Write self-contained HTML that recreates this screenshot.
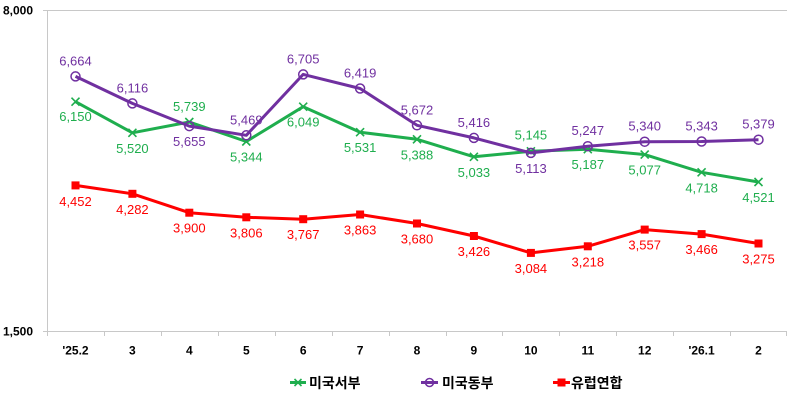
<!DOCTYPE html>
<html>
<head>
<meta charset="utf-8">
<style>
html,body{margin:0;padding:0;background:#fff;}
svg{display:block;}
.ax{font-family:"Liberation Sans",Arial,sans-serif;font-size:12px;font-weight:bold;fill:#000;}
.lb{font-family:"Liberation Sans",Arial,sans-serif;font-size:13px;text-anchor:middle;}
.g{fill:#1fae4e;}
.p{fill:#7030a0;}
.r{fill:#ff0000;}
.lg{font-family:"Liberation Sans","Noto Sans CJK KR",sans-serif;font-size:14px;font-weight:bold;fill:#000;}
</style>
</head>
<body>
<svg width="800" height="410" viewBox="0 0 800 410" xmlns="http://www.w3.org/2000/svg">
<!-- axes -->
<line x1="47" y1="10.5" x2="787" y2="10.5" stroke="#c8c8c8" stroke-width="1"/>
<line x1="47.5" y1="10.5" x2="47.5" y2="331" stroke="#c8c8c8" stroke-width="1"/>
<line x1="43" y1="10.5" x2="47.5" y2="10.5" stroke="#c8c8c8" stroke-width="1"/>
<line x1="43" y1="331.5" x2="787" y2="331.5" stroke="#c8c8c8" stroke-width="1"/>
<g stroke="#c8c8c8" stroke-width="1">
<line x1="47.5" y1="331" x2="47.5" y2="336"/>
<line x1="104.5" y1="331" x2="104.5" y2="336"/>
<line x1="161.5" y1="331" x2="161.5" y2="336"/>
<line x1="218.5" y1="331" x2="218.5" y2="336"/>
<line x1="275.5" y1="331" x2="275.5" y2="336"/>
<line x1="332.5" y1="331" x2="332.5" y2="336"/>
<line x1="389.5" y1="331" x2="389.5" y2="336"/>
<line x1="446.5" y1="331" x2="446.5" y2="336"/>
<line x1="502.5" y1="331" x2="502.5" y2="336"/>
<line x1="559.5" y1="331" x2="559.5" y2="336"/>
<line x1="616.5" y1="331" x2="616.5" y2="336"/>
<line x1="673.5" y1="331" x2="673.5" y2="336"/>
<line x1="730.5" y1="331" x2="730.5" y2="336"/>
<line x1="786.5" y1="331" x2="786.5" y2="336"/>
</g>
<text class="ax" x="33" y="14.5" text-anchor="end">8,000</text>
<text class="ax" x="33" y="335.5" text-anchor="end">1,500</text>
<g class="ax" text-anchor="middle">
<text x="75.5" y="354.5">'25.2</text>
<text x="132.4" y="354.5">3</text>
<text x="189.3" y="354.5">4</text>
<text x="246.3" y="354.5">5</text>
<text x="303.2" y="354.5">6</text>
<text x="360.1" y="354.5">7</text>
<text x="417" y="354.5">8</text>
<text x="473.9" y="354.5">9</text>
<text x="530.9" y="354.5">10</text>
<text x="587.8" y="354.5">11</text>
<text x="644.7" y="354.5">12</text>
<text x="701.6" y="354.5">'26.1</text>
<text x="758.5" y="354.5">2</text>
</g>

<!-- red series -->
<polyline fill="none" stroke="#ff0000" stroke-width="3" stroke-linejoin="round" points="75.5,185.4 132.4,193.8 189.3,212.7 246.3,217.3 303.2,219.2 360.1,214.5 417,223.5 473.9,236 530.9,252.9 587.8,246.3 644.7,229.6 701.6,234.1 758.5,243.5"/>
<g fill="#ff0000">
<rect x="71.5" y="181.4" width="8" height="8"/>
<rect x="128.4" y="189.8" width="8" height="8"/>
<rect x="185.3" y="208.7" width="8" height="8"/>
<rect x="242.3" y="213.3" width="8" height="8"/>
<rect x="299.2" y="215.2" width="8" height="8"/>
<rect x="356.1" y="210.5" width="8" height="8"/>
<rect x="413" y="219.5" width="8" height="8"/>
<rect x="469.9" y="232" width="8" height="8"/>
<rect x="526.9" y="248.9" width="8" height="8"/>
<rect x="583.8" y="242.3" width="8" height="8"/>
<rect x="640.7" y="225.6" width="8" height="8"/>
<rect x="697.6" y="230.1" width="8" height="8"/>
<rect x="754.5" y="239.5" width="8" height="8"/>
</g>

<!-- green series -->
<polyline fill="none" stroke="#1fae4e" stroke-width="3" stroke-linejoin="round" points="75.5,101.7 132.4,132.8 189.3,122 246.3,141.5 303.2,106.7 360.1,132.2 417,139.3 473.9,156.8 530.9,151.3 587.8,149.2 644.7,154.6 701.6,172.3 758.5,182"/>
<g stroke="#1fae4e" stroke-width="1.6" fill="none">
<path d="M71.5,97.7l8,8M79.5,97.7l-8,8"/>
<path d="M128.4,128.8l8,8M136.4,128.8l-8,8"/>
<path d="M185.3,118l8,8M193.3,118l-8,8"/>
<path d="M242.3,137.5l8,8M250.3,137.5l-8,8"/>
<path d="M299.2,102.7l8,8M307.2,102.7l-8,8"/>
<path d="M356.1,128.2l8,8M364.1,128.2l-8,8"/>
<path d="M413,135.3l8,8M421,135.3l-8,8"/>
<path d="M469.9,152.8l8,8M477.9,152.8l-8,8"/>
<path d="M526.9,147.3l8,8M534.9,147.3l-8,8"/>
<path d="M583.8,145.2l8,8M591.8,145.2l-8,8"/>
<path d="M640.7,150.6l8,8M648.7,150.6l-8,8"/>
<path d="M697.6,168.3l8,8M705.6,168.3l-8,8"/>
<path d="M754.5,178l8,8M762.5,178l-8,8"/>
</g>

<!-- purple series -->
<polyline fill="none" stroke="#7030a0" stroke-width="3" stroke-linejoin="round" points="75.5,76.4 132.4,103.4 189.3,126.1 246.3,135.3 303.2,74.4 360.1,88.5 417,125.3 473.9,137.9 530.9,152.9 587.8,146.2 644.7,141.7 701.6,141.5 758.5,139.7"/>
<g stroke="#7030a0" stroke-width="1.5" fill="none">
<circle cx="75.5" cy="76.4" r="4.5"/>
<circle cx="132.4" cy="103.4" r="4.5"/>
<circle cx="189.3" cy="126.1" r="4.5"/>
<circle cx="246.3" cy="135.3" r="4.5"/>
<circle cx="303.2" cy="74.4" r="4.5"/>
<circle cx="360.1" cy="88.5" r="4.5"/>
<circle cx="417" cy="125.3" r="4.5"/>
<circle cx="473.9" cy="137.9" r="4.5"/>
<circle cx="530.9" cy="152.9" r="4.5"/>
<circle cx="587.8" cy="146.2" r="4.5"/>
<circle cx="644.7" cy="141.7" r="4.5"/>
<circle cx="701.6" cy="141.5" r="4.5"/>
<circle cx="758.5" cy="139.7" r="4.5"/>
</g>

<!-- purple labels -->
<g class="lb p">
<text x="75.5" y="65.4">6,664</text>
<text x="132.4" y="92.4">6,116</text>
<text x="189.3" y="146.1">5,655</text>
<text x="246.3" y="124.3">5,469</text>
<text x="303.2" y="63.4">6,705</text>
<text x="360.1" y="77.5">6,419</text>
<text x="417" y="114.3">5,672</text>
<text x="473.9" y="126.9">5,416</text>
<text x="530.9" y="172.9">5,113</text>
<text x="587.8" y="135.2">5,247</text>
<text x="644.7" y="130.7">5,340</text>
<text x="701.6" y="130.5">5,343</text>
<text x="758.5" y="128.7">5,379</text>
</g>

<!-- green labels -->
<g class="lb g">
<text x="75.5" y="121.2">6,150</text>
<text x="132.4" y="152.8">5,520</text>
<text x="189.3" y="111">5,739</text>
<text x="246.3" y="161.5">5,344</text>
<text x="303.2" y="126.7">6,049</text>
<text x="360.1" y="152.2">5,531</text>
<text x="417" y="159.3">5,388</text>
<text x="473.9" y="176.8">5,033</text>
<text x="530.9" y="139.3">5,145</text>
<text x="587.8" y="169.2">5,187</text>
<text x="644.7" y="174.6">5,077</text>
<text x="701.6" y="192.3">4,718</text>
<text x="758.5" y="202">4,521</text>
</g>

<!-- red labels -->
<g class="lb r">
<text x="75.5" y="205.9">4,452</text>
<text x="132.4" y="213.8">4,282</text>
<text x="189.3" y="232.7">3,900</text>
<text x="246.3" y="237.3">3,806</text>
<text x="303.2" y="239.2">3,767</text>
<text x="360.1" y="234.5">3,863</text>
<text x="417" y="243.5">3,680</text>
<text x="473.9" y="256">3,426</text>
<text x="530.9" y="272.9">3,084</text>
<text x="587.8" y="266.3">3,218</text>
<text x="644.7" y="249.6">3,557</text>
<text x="701.6" y="254.1">3,466</text>
<text x="758.5" y="263.5">3,275</text>
</g>

<!-- legend -->
<line x1="290" y1="382.5" x2="306" y2="382.5" stroke="#1fae4e" stroke-width="3"/>
<path d="M294.5,379l7,7M301.5,379l-7,7" stroke="#1fae4e" stroke-width="1.6" fill="none"/>
<text class="lg" x="309" y="388">미국서부</text>

<line x1="421" y1="382.5" x2="438" y2="382.5" stroke="#7030a0" stroke-width="3"/>
<circle cx="429.5" cy="382.5" r="4" stroke="#7030a0" stroke-width="1.5" fill="none"/>
<text class="lg" x="442" y="388">미국동부</text>

<line x1="553" y1="382.5" x2="570" y2="382.5" stroke="#ff0000" stroke-width="3"/>
<rect x="557.5" y="378.5" width="8" height="8" fill="#ff0000"/>
<text class="lg" x="571" y="388">유럽연합</text>
</svg>
</body>
</html>
